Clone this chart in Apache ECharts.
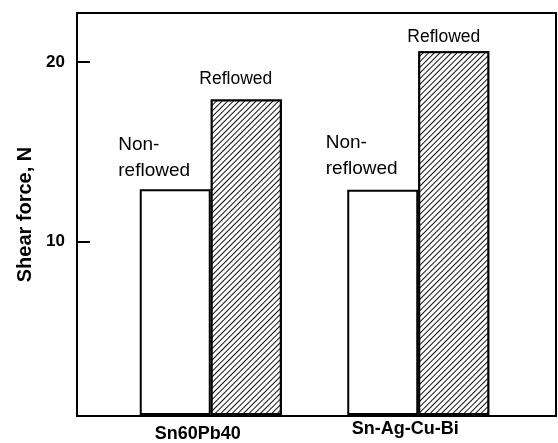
<!DOCTYPE html>
<html>
<head>
<meta charset="utf-8">
<script src="https://cdn.jsdelivr.net/npm/echarts@6/dist/echarts.min.js"></script>
<style>
  html, body { margin: 0; padding: 0; background: #fff; }
  #chart { width: 558px; height: 443px; }
</style>
</head>
<body>
<div id="chart"></div>
<script>
// data
var categories = ['Sn60Pb40', 'Sn-Ag-Cu-Bi'];
var nonReflowed = [12.85, 12.83];
var reflowed = [17.9, 20.6];
var yTicks = [10, 20];
var yMin = 0.24, yMax = 22.75;

var font = 'Liberation Sans, Arial, Helvetica, sans-serif';

var chartDom = document.getElementById('chart');
var myChart = echarts.init(chartDom);

// hand placed annotations in the original, so nudge each one
var nonOffsets = [[-57, -1], [-57, -3]];
var refOffsets = [[-10.5, -5], [-10, 1]];

// "////" hatching (negative rotation = clockwise here)
var hatch = {
    symbol: 'rect',
    symbolSize: 1,
    color: '#111',
    backgroundColor: '#fff',
    dashArrayX: [1, 0],
    dashArrayY: [1, 2.3],
    rotation: -Math.PI / 4
};

var option = {
    backgroundColor: '#fff',
    animation: false,
    grid: [
        // frame
        { left: 77, right: 2, top: 13, bottom: 27, show: true, borderColor: '#000', borderWidth: 2 },
        // bars
        { left: 107, right: 36, top: 13, bottom: 27 }
    ],
    xAxis: [
        { gridIndex: 0, type: 'category', data: categories, show: false },
        {
            gridIndex: 1, type: 'category', data: categories,
            axisLine: { show: false },
            axisTick: { show: false },
            axisLabel: {
                margin: 6,
                formatter: function (v, i) { return i === 0 ? '{a|' + v + '}' : '{b|' + v + '}'; },
                rich: {
                    a: { fontFamily: font, fontWeight: 'bold', fontSize: 18, color: '#000', padding: [5, 26, 0, 0] },
                    b: { fontFamily: font, fontWeight: 'bold', fontSize: 18, color: '#000', padding: [0, 26, 0, 0] }
                }
            }
        }
    ],
    yAxis: [
        {
            gridIndex: 0, type: 'value', min: yMin, max: yMax,
            name: 'Shear force, N',
            nameLocation: 'middle',
            nameGap: 42,
            nameTextStyle: { fontFamily: font, fontWeight: 'bold', fontSize: 20, color: '#000' },
            axisLine: { show: true, lineStyle: { color: '#000', width: 2 } },
            axisTick: { show: true, inside: true, length: 13, lineStyle: { color: '#000', width: 2 }, customValues: yTicks },
            axisLabel: { fontFamily: font, fontWeight: 'bold', fontSize: 17, color: '#000', margin: 12, customValues: yTicks },
            splitLine: { show: false }
        },
        { gridIndex: 1, type: 'value', min: yMin, max: yMax, show: false, splitLine: { show: false } }
    ],
    series: [
        {
            name: 'Non-reflowed',
            type: 'bar',
            xAxisIndex: 1, yAxisIndex: 1,
            barWidth: 71,
            barGap: '0%',
            itemStyle: { color: '#fff', borderColor: '#000', borderWidth: 2 },
            label: {
                show: true, position: 'top', distance: 5,
                formatter: 'Non-\nreflowed',
                align: 'left',
                fontFamily: font, fontSize: 19, lineHeight: 26, color: '#000'
            },
            data: nonReflowed.map(function (v, i) {
                return { value: v, label: { offset: nonOffsets[i] } };
            })
        },
        {
            name: 'Reflowed',
            type: 'bar',
            xAxisIndex: 1, yAxisIndex: 1,
            barWidth: 71,
            barGap: '0%',
            itemStyle: { color: '#fff', borderColor: '#000', borderWidth: 2, decal: hatch },
            label: {
                show: true, position: 'top', distance: 5,
                formatter: 'Reflowed',
                fontFamily: font, fontSize: 17.5, lineHeight: 20, color: '#000'
            },
            data: reflowed.map(function (v, i) {
                return { value: v, label: { offset: refOffsets[i] } };
            })
        }
    ]
};

myChart.setOption(option);
</script>
</body>
</html>
